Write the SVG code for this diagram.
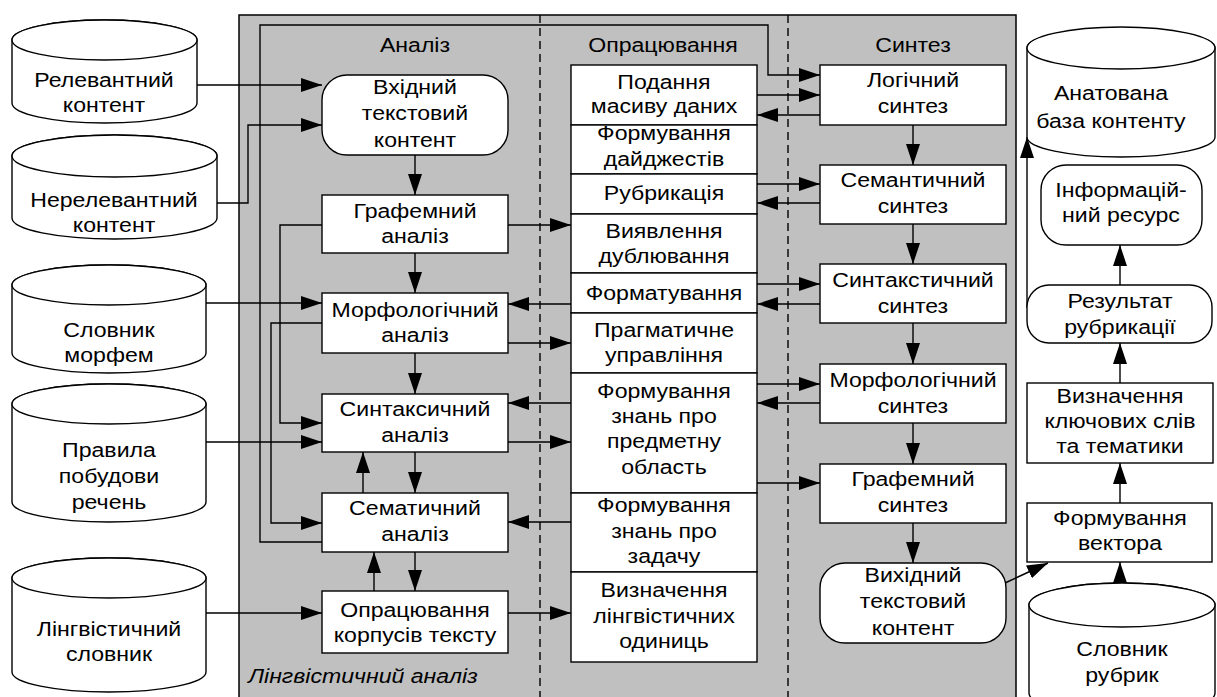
<svg xmlns="http://www.w3.org/2000/svg" width="1217" height="697" viewBox="0 0 1217 697">
<style>
.bx{fill:#fff;stroke:#000;stroke-width:1.4}
.ln{fill:none;stroke:#000;stroke-width:1.4}
.ar{fill:none;stroke:#000;stroke-width:1.4;marker-end:url(#ah)}
.ds{fill:none;stroke:#000;stroke-width:1.4;stroke-dasharray:8,5}
text{font-family:"Liberation Sans",Arial,sans-serif;font-size:21px;text-anchor:middle;fill:#000;transform-box:fill-box;transform-origin:center;transform:scale(1.1,1)}
.it{font-style:italic;text-anchor:start;transform-origin:left center}
</style>
<defs>
<marker id="ah" markerUnits="userSpaceOnUse" markerWidth="21" markerHeight="14" refX="21" refY="7" orient="auto">
<path d="M0,0 L21,7 L0,14 Z" fill="#000"/>
</marker>
</defs>
<rect id="panel" x="239" y="15" width="777" height="700" fill="#c0c0c0" stroke="#000" stroke-width="1.5"/>
<g id="dividers">
<line class="ds" x1="540" y1="15" x2="540" y2="697"/>
<line class="ds" x1="788" y1="15" x2="788" y2="697"/>
</g>
<g id="titles">
<text x="415" y="52">Аналіз</text>
<text x="663" y="52">Опрацювання</text>
<text x="913" y="52">Синтез</text>
<text class="it" x="248" y="683">Лінгвістичний аналіз</text>
</g>
<g id="connectors">
<path class="ar" d="M197,85 H322"/>
<path class="ar" d="M217,203 H248 V125 H322"/>
<path class="ar" d="M206,303 H322"/>
<path class="ar" d="M206,442 H322"/>
<path class="ar" d="M206,613 H322"/>
<path class="ar" d="M322,542 H260 V25 H768 V75 H820"/>
<path class="ar" d="M322,225 H280 V423 H322"/>
<path class="ar" d="M322,323 H271 V523 H322"/>
<path class="ar" d="M415,155 V195"/>
<path class="ar" d="M415,253 V293"/>
<path class="ar" d="M415,353 V394"/>
<path class="ar" d="M415,452 V493"/>
<path class="ar" d="M415,552 V591"/>
<path class="ar" d="M363,493 V452"/>
<path class="ar" d="M374,591 V552"/>
<path class="ar" d="M508,225 H571"/>
<path class="ar" d="M508,343 H571"/>
<path class="ar" d="M508,442 H571"/>
<path class="ar" d="M508,613 H571"/>
<path class="ar" d="M571,304 H508"/>
<path class="ar" d="M571,403 H508"/>
<path class="ar" d="M571,522 H508"/>
<path class="ar" d="M757,95 H820"/>
<path class="ar" d="M820,115 H757"/>
<path class="ar" d="M757,184 H820"/>
<path class="ar" d="M820,203 H757"/>
<path class="ar" d="M757,284 H820"/>
<path class="ar" d="M820,304 H757"/>
<path class="ar" d="M757,384 H820"/>
<path class="ar" d="M820,403 H757"/>
<path class="ar" d="M757,483 H820"/>
<path class="ar" d="M913,125 V165"/>
<path class="ar" d="M913,224 V264"/>
<path class="ar" d="M913,323 V364"/>
<path class="ar" d="M913,423 V464"/>
<path class="ar" d="M913,523 V563"/>
<path class="ar" d="M1005,583 L1048,563"/>
<path class="ar" d="M1120,607 V562"/>
<path class="ar" d="M1120,503 V463"/>
<path class="ar" d="M1120,383 V343"/>
<path class="ar" d="M1120,285 V245"/>
<path class="ar" d="M1027,308 V137"/>
</g>
<g id="c-relevant">
<path class="bx" d="M12,40 V103 A92.5,20 0 0 0 197,103 V40 A92.5,20 0 0 0 12,40 Z"/>
<ellipse class="bx" cx="104.5" cy="40" rx="92.5" ry="20"/>
<text x="104" y="87">Релевантний</text><text x="104" y="112">контент</text>
</g>
<g id="c-irrelevant">
<path class="bx" d="M12,156 V218 A102.5,21 0 0 0 217,218 V156 A102.5,21 0 0 0 12,156 Z"/>
<ellipse class="bx" cx="114.5" cy="156" rx="102.5" ry="21"/>
<text x="114" y="207">Нерелевантний</text><text x="114" y="232">контент</text>
</g>
<g id="c-morph">
<path class="bx" d="M12,285 V353 A97,20 0 0 0 206,353 V285 A97,20 0 0 0 12,285 Z"/>
<ellipse class="bx" cx="109" cy="285" rx="97" ry="20"/>
<text x="109" y="337">Словник</text><text x="109" y="362">морфем</text>
</g>
<g id="c-rules">
<path class="bx" d="M12,404 V502 A97,20 0 0 0 206,502 V404 A97,20 0 0 0 12,404 Z"/>
<ellipse class="bx" cx="109" cy="404" rx="97" ry="20"/>
<text x="109" y="457">Правила</text><text x="109" y="483">побудови</text><text x="109" y="509">речень</text>
</g>
<g id="c-ling">
<path class="bx" d="M12,578 V672 A97,20 0 0 0 206,672 V578 A97,20 0 0 0 12,578 Z"/>
<ellipse class="bx" cx="109" cy="578" rx="97" ry="20"/>
<text x="109" y="636">Лінгвістичний</text><text x="109" y="661">словник</text>
</g>
<g id="c-annot">
<path class="bx" d="M1027,48 V137 A94,20 0 0 0 1215,137 V48 A94,20 0 0 0 1027,48 Z"/>
<ellipse class="bx" cx="1121" cy="48" rx="94" ry="21"/>
<text x="1111" y="100">Анатована</text><text x="1111" y="128">база контенту</text>
</g>
<g id="c-rubr">
<path class="bx" d="M1029,605 V693 A93,22 0 0 0 1215,693 V605 A93,22 0 0 0 1029,605 Z"/>
<ellipse class="bx" cx="1122" cy="605" rx="93" ry="22"/>
<text x="1122" y="656">Словник</text><text x="1122" y="682">рубрик</text>
</g>
<g id="a-input"><rect class="bx" x="322" y="75" width="186" height="80" rx="25"/>
<text x="415" y="94">Вхідний</text><text x="415" y="120">текстовий</text><text x="415" y="147">контент</text></g>
<g id="a-graph"><rect class="bx" x="322" y="195" width="186" height="58"/>
<text x="415" y="218">Графемний</text><text x="415" y="243">аналіз</text></g>
<g id="a-morph"><rect class="bx" x="322" y="293" width="186" height="60"/>
<text x="415" y="317">Морфологічний</text><text x="415" y="342">аналіз</text></g>
<g id="a-synt"><rect class="bx" x="322" y="394" width="186" height="58"/>
<text x="415" y="416">Синтаксичний</text><text x="415" y="442">аналіз</text></g>
<g id="a-sem"><rect class="bx" x="322" y="493" width="186" height="59"/>
<text x="415" y="515">Сематичний</text><text x="415" y="541">аналіз</text></g>
<g id="a-corp"><rect class="bx" x="322" y="591" width="186" height="62"/>
<text x="415" y="617">Опрацювання</text><text x="415" y="642">корпусів тексту</text></g>
<g id="p-data"><rect class="bx" x="571" y="65" width="186" height="60"/>
<text x="664" y="89">Подання</text><text x="664" y="113">масиву даних</text></g>
<g id="p-digest"><rect class="bx" x="571" y="125" width="186" height="49"/>
<text x="664" y="140">Формування</text><text x="664" y="166">дайджестів</text></g>
<g id="p-rubr"><rect class="bx" x="571" y="174" width="186" height="40"/>
<text x="664" y="200">Рубрикація</text></g>
<g id="p-dup"><rect class="bx" x="571" y="214" width="186" height="59"/>
<text x="664" y="238">Виявлення</text><text x="664" y="263">дублювання</text></g>
<g id="p-format"><rect class="bx" x="571" y="273" width="186" height="40"/>
<text x="664" y="300">Форматування</text></g>
<g id="p-prag"><rect class="bx" x="571" y="313" width="186" height="60"/>
<text x="664" y="337">Прагматичне</text><text x="664" y="362">управління</text></g>
<g id="p-domain"><rect class="bx" x="571" y="373" width="186" height="120"/>
<text x="664" y="398">Формування</text><text x="664" y="423">знань про</text><text x="664" y="448">предметну</text><text x="664" y="474">область</text></g>
<g id="p-task"><rect class="bx" x="571" y="493" width="186" height="79"/>
<text x="664" y="512">Формування</text><text x="664" y="538">знань про</text><text x="664" y="563">задачу</text></g>
<g id="p-units"><rect class="bx" x="571" y="572" width="186" height="90"/>
<text x="664" y="597">Визначення</text><text x="664" y="623">лінгвістичних</text><text x="664" y="648">одиниць</text></g>
<g id="s-logic"><rect class="bx" x="820" y="65" width="186" height="60"/>
<text x="913" y="87">Логічний</text><text x="913" y="113">синтез</text></g>
<g id="s-sem"><rect class="bx" x="820" y="165" width="186" height="59"/>
<text x="913" y="187">Семантичний</text><text x="913" y="213">синтез</text></g>
<g id="s-synt"><rect class="bx" x="820" y="264" width="186" height="59"/>
<text x="913" y="287">Синтакстичний</text><text x="913" y="313">синтез</text></g>
<g id="s-morph"><rect class="bx" x="820" y="364" width="186" height="59"/>
<text x="913" y="387">Морфологічний</text><text x="913" y="413">синтез</text></g>
<g id="s-graph"><rect class="bx" x="820" y="464" width="186" height="59"/>
<text x="913" y="486">Графемний</text><text x="913" y="512">синтез</text></g>
<g id="s-out"><rect class="bx" x="820" y="563" width="186" height="80" rx="25"/>
<text x="913" y="582">Вихідний</text><text x="913" y="608">текстовий</text><text x="913" y="635">контент</text></g>
<g id="r-res"><rect class="bx" x="1041" y="165" width="161" height="80" rx="25"/>
<text x="1121" y="197">Інформацій-</text><text x="1121" y="222">ний ресурс</text></g>
<g id="r-result"><rect class="bx" x="1027" y="285" width="185" height="58" rx="22"/>
<text x="1120" y="308">Результат</text><text x="1120" y="334">рубрикації</text></g>
<g id="r-kw"><rect class="bx" x="1027" y="383" width="186" height="80"/>
<text x="1120" y="403">Визначення</text><text x="1120" y="428">ключових слів</text><text x="1120" y="453">та тематики</text></g>
<g id="r-vec"><rect class="bx" x="1027" y="503" width="185" height="59"/>
<text x="1120" y="525">Формування</text><text x="1120" y="550">вектора</text></g>
</svg>
